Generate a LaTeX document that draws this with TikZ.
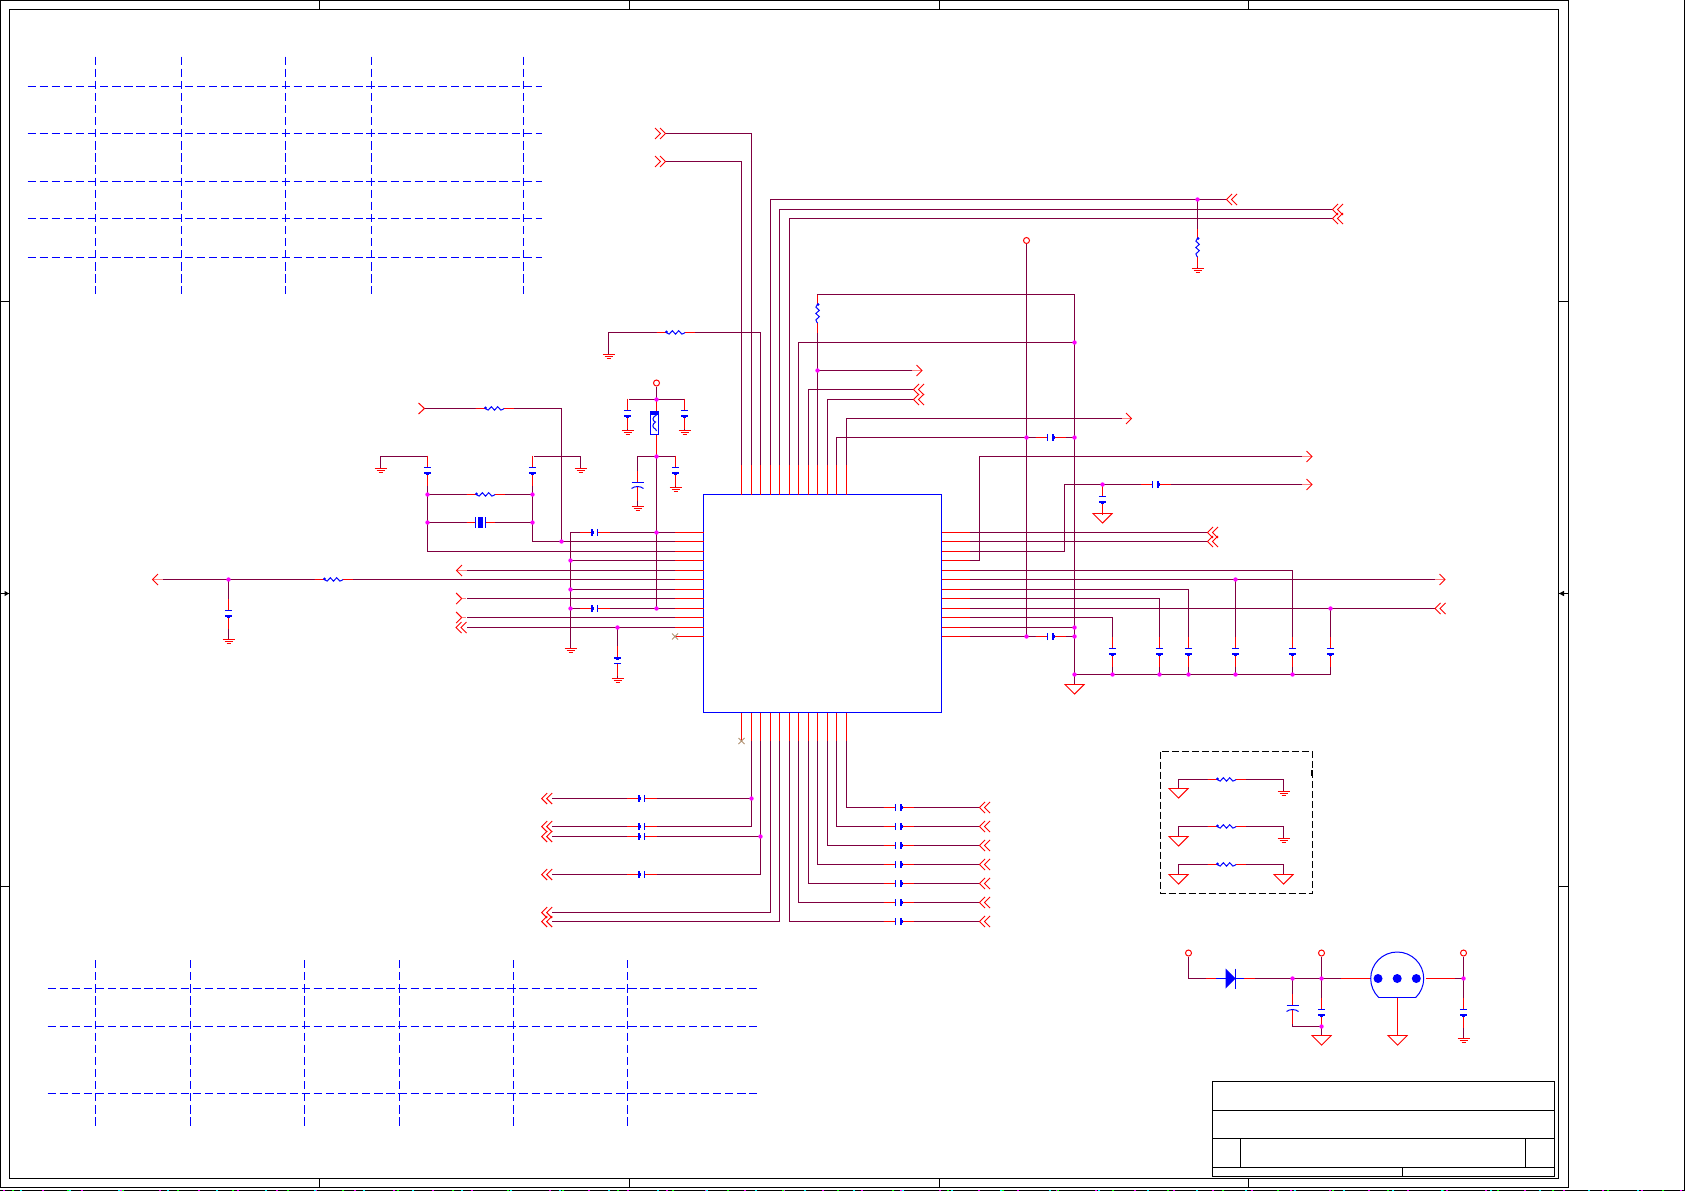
\documentclass[tikz,border=0pt]{standalone}
\definecolor{wirec}{RGB}{128,0,64}
\definecolor{palec}{RGB}{255,128,128}
\definecolor{markc}{RGB}{176,144,112}
\definecolor{magc}{RGB}{255,0,255}
\definecolor{grnc}{RGB}{0,255,0}
\definecolor{cync}{RGB}{0,255,255}
\definecolor{redc}{RGB}{255,0,0}
\definecolor{bluc}{RGB}{0,0,255}
\tikzset{
  wirest/.style={draw=wirec,line width=1pt,line join=miter},
  leadst/.style={draw=redc,line width=1pt},
  compst/.style={draw=bluc,line width=1pt},
  gridst/.style={draw=bluc,line width=1pt,dash pattern=on 8.3pt off 3.8pt},
  framest/.style={draw=black,line width=1pt},
  junct/.style={fill=magc},
  capv/.pic={
    \draw[white,line width=2pt] (0,-15)--(0,15);
    \draw[leadst] (0,-15)--(0,-3) (0,1.5)--(0,15);
    \draw[compst] (-3.6,-3)--(3.6,-3);
    \fill[bluc] (-3.6,1.5) rectangle (3.6,3.5);
    \fill[bluc] (-1.6,1) rectangle (1.6,4);
  },
  pcap/.pic={
    \draw[white,line width=2pt] (0,-15)--(0,15);
    \draw[leadst] (0,-15)--(0,-3) (0,1)--(0,15);
    \draw[compst] (-6,-3)--(6,-3);
    \draw[compst] (-6,3) .. controls (-3,0.4) and (3,0.4) .. (6,3);
  },
  res/.pic={
    \draw[white,line width=2pt] (-19,0)--(19,0);
    \draw[leadst] (-19,0)--(-9.5,0) (9.5,0)--(19,0);
    \draw[compst] plot[smooth] coordinates {(-9.5,-0.6)(-6.3,1.6)(-3.2,-1.8)(0,1.6)(3.2,-1.8)(6.3,1.6)(9.5,0)};
    \fill[bluc] (-9,-0.6) circle (1.5);
  },
  xtal/.pic={
    \draw[white,line width=2pt] (-14,0)--(14,0);
    \draw[leadst] (-14,0)--(-5,0) (5,0)--(14,0);
    \draw[compst] (-5,-5.5)--(-5,5.5) (5,-5.5)--(5,5.5);
    \fill[bluc] (-2.5,-5.5) rectangle (2.5,5.5);
  },
  gndb/.pic={
    \draw[leadst] (-6,0)--(6,0) (-4,2)--(4,2) (-2,4)--(2,4);
  },
  gtri/.pic={\draw[draw=redc,line width=0.9pt,line join=miter] (-9.6,0)--(9.6,0)--(0,9.6)--cycle;},
  arrs/.pic={
    \draw[palec,line width=1pt] (0,0)--(-10,0);
    \draw[draw=redc,line width=1pt] (-5.5,-5.5)--(0,0)--(-5.5,5.5);
  },
  arrd/.pic={
    \draw[draw=redc,line width=1pt] (5.5,-5.5)--(0,0)--(5.5,5.5) (10.5,-5.5)--(5,0)--(10.5,5.5);
  },
  vcc/.pic={\draw[draw=redc,line width=1pt] (0,0) circle (3);},
  nomark/.pic={\draw[draw=markc,line width=0.8pt] (-3,-3)--(3,3) (-3,3)--(3,-3);},
}
\begin{document}
\begin{tikzpicture}[x=1pt,y=-1pt]
\useasboundingbox (0,0) rectangle (1685,1191);
% sheet frame
\draw[framest] (0.5,0.5) rectangle (1568.5,1187.5);
\draw[framest] (9.5,9.5) rectangle (1558.5,1178.5);
\foreach \x in {319.5,629.5,939.5,1248.5} {
  \draw[framest] (\x,0.5)--(\x,9.5);
  \draw[framest] (\x,1178.5)--(\x,1187.5);
}
\foreach \y in {301.5,886.5} {
  \draw[framest] (0.5,\y)--(9.5,\y);
  \draw[framest] (1558.5,\y)--(1568.5,\y);
}
\draw[framest] (0.5,593.5)--(9.5,593.5);
\fill[black] (9,593.5)--(4.5,590.8)--(4.5,596.2)--cycle;
\draw[framest] (1558.5,593.5)--(1568.5,593.5);
\fill[black] (1559,593.5)--(1564,590.8)--(1564,596.2)--cycle;
\draw[black,line width=1pt] (0,1190.5)--(1685,1190.5);
\draw[magc,line width=1pt,dash pattern=on 2pt off 37pt] (3,1190.5)--(1685,1190.5);
\draw[grnc,line width=1pt,dash pattern=on 2pt off 53pt] (12,1190.5)--(1685,1190.5);
\draw[cync,line width=1pt,dash pattern=on 2pt off 47pt] (20,1190.5)--(1685,1190.5);
\draw[black,line width=1pt] (1684.5,0)--(1684.5,1191);
% title block
\draw[framest] (1212.5,1081.5) rectangle (1554.5,1176.5);
\draw[framest] (1212.5,1110.5)--(1554.5,1110.5);
\draw[framest] (1212.5,1138.5)--(1554.5,1138.5);
\draw[framest] (1212.5,1167.5)--(1554.5,1167.5);
\draw[framest] (1240.5,1138.5)--(1240.5,1167.5);
\draw[framest] (1525.5,1138.5)--(1525.5,1167.5);
\draw[framest] (1402.5,1167.5)--(1402.5,1176.5);
% dashed tables
\foreach \x in {95.5,181.5,285.5,371.5,523.5} \draw[gridst] (\x,56.5)--(\x,293.7);
\foreach \y in {86.5,133.5,181.5,218.5,257.5} \draw[gridst] (27.5,\y)--(542,\y);
\foreach \x in {95.5,190.5,304.5,399.5,513.5,627.5} \draw[gridst] (\x,960)--(\x,1127);
\foreach \y in {988.5,1026.5,1093.5} \draw[gridst] (47.5,\y)--(757,\y);
% main chip
\node (U) [draw=bluc,line width=1pt,inner sep=0pt,outer sep=0pt,minimum width=238pt,minimum height=218pt,anchor=north west] at (703.5,494.5) {};
% pins
\foreach \i/\y in {1/532.5,2/541.5,3/551.5,4/560.5,5/570.5,6/579.5,7/589.5,8/598.5,9/608.5,10/617.5,11/627.5,12/636.5} {
  \coordinate (LP\i) at (703.5,\y); \coordinate (LE\i) at (675,\y);
  \coordinate (RP\i) at (941.5,\y); \coordinate (RE\i) at (969.5,\y);
}
\foreach \i/\x in {1/741.5,2/751.5,3/760.5,4/770.5,5/779.5,6/789.5,7/798.5,8/808.5,9/817.5,10/827.5,11/836.5,12/846.5} {
  \coordinate (TP\i) at (\x,494.5); \coordinate (TE\i) at (\x,465);
  \coordinate (BP\i) at (\x,712.5); \coordinate (BE\i) at (\x,741);
}
% named points (all on pixel centres)
\foreach \n/\x/\y in {
 ra/570.3/532.3,rb/570.3/560.3,rc/570.3/589.3,rd/570.3/608.3,re/570.3/648.3,
 pa/656.3/386,pb/656.3/399.3,pc/656.3/456,pd/656.3/532.3,pe/656.3/608.3,
 pl/627.3/399.3,pr/684.3/399.3,plg/627.3/430,prg/684.3/430,
 ql/637.3/456,qr/675/456,qlg/637.3/506.7,qrg/675/487,
 xa/532.3/541.3,xb/532.3/456.7,xc/580/456.7,xd/580/468,
 xe/561/541.3,xf/561/408.3,xg/424/408.3,
 ya/427.7/551.3,yb/427.7/456.7,yc/380.3/456.7,yd/380.3/468,
 xm/532.3/494,xn/532.3/522.7,ym/427.7/494,yn/427.7/522.7,
 ea/466/570.3,eb/161.7/579.3,ec/228.3/579.3,ed/228.3/639.3,
 ef/466/598.3,eg/466/617.3,eh/466/627.3,ei/617.7/627.3,ej/617.7/678,
 ta/665.5/161.3,tb/665.5/133.3,tc/608.6/332.3,td/608.6/354,
 te/1226.8/199.3,tf/1197.6/199.3,tg/1197.6/268,
 th/1332/209.3,ti/1332/218.3,tj/1074/342.3,tk/913.4/389.3,
 tl/817.7/294.3,tm/1074/294.3,tn/1074/684,
 to/817.7/370.3,tp/913.4/370.3,tq/913.4/399.3,
 tr/1026.4/437.3,ts/1074/437.3,tt/1121/418.3,
 tu/1026.4/243.3,tv/1026.4/636.3,
 oa/1207.3/532.3,ob/1207.3/541.3,
 oc/1064.3/551.3,od/1064.3/484.3,oe/1302/484.3,of/1102.3/484.3,og/1102.3/513.3,
 oh/979.3/560.3,oi/979.3/456.3,oj/1302/456.3,
 ok/1292.3/674.3,ol/1235.7/579.3,om/1235.7/674.3,on/1435/579.3,
 oo/1188.3/674.3,op/1159.3/674.3,oq/1330.3/608.3,or/1435/608.3,
 os/1112.3/674.3,ot/1074/627.3,ou/1074/636.3,ov/1330.3/674.3,ow/1074/674.3,
 ba/751.3/798.3,bb/551.7/798.3,bc/551.7/826.3,bd/760.3/836.3,be/551.7/836.3,
 bf/551.7/874.3,bg/551.7/912.3,bh/551.7/921.3,bi/751.3/826.3,bj/760.3/874.3,
 ca/979.3/921.3,cb/979.3/902.3,cc/979.3/883.3,cd/979.3/864.3,ce/979.3/845.3,cf/979.3/826.3,cg/979.3/807.3,
 aa1/1178.2/788.3,aa2/1178.2/779.3,aa3/1283.2/779.3,aa4/1283.2/791,
 ab1/1178.2/836,ab2/1178.2/826.3,ab3/1283.2/826.3,ab4/1283.2/838,
 ac1/1178.2/874,ac2/1178.2/864.3,ac3/1283.2/864.3,ac4/1283.2/874,
 da/1188/956,db/1188/978.3,dc/1369.4/978.3,dd/1292.2/978.3,de/1321/978.3,df/1321/956,dg/1321/1035.7,
 dh/1292.2/1026.3,di/1321/1026.3,dj/1397.2/997.7,dk/1397.2/1035.7,
 dl/1425/978.3,dm/1463.6/978.3,dn/1463.6/956,dp/1463.6/1038,
 fa/656.5/411,fb/656.5/434.5,sa/1340/978.3,sb/1454.6/978.3} {
  \pgfmathsetmacro\sx{floor(\x)+0.5}
  \pgfmathsetmacro\sy{floor(\y)+0.5}
  \coordinate (\n) at (\sx,\sy);
}
% ---- pin stubs
\foreach \i in {1,...,12} {
  \draw[leadst] (LP\i)--(LE\i);
  \draw[leadst] (RP\i)--(RE\i);
  \draw[leadst] (TP\i)--(TE\i);
  \draw[leadst] (BP\i)--(BE\i);
}
% ---- left wires
\draw[wirest] (LE1)--(pd)--(ra)--(re);
\draw[wirest] (LE2)--(xa)--(xb)--(xc)--(xd);
\draw[wirest] (xe)--(xf)--(xg);
\draw[wirest] (LE3)--(ya)--(yb)--(yc)--(yd);
\draw[wirest] (ym)--(xm) (yn)--(xn);
\draw[wirest] (LE4)--(rb);
\draw[wirest] (LE5)--(ea);
\draw[wirest] (LE6)--(eb);
\draw[wirest] (ec)--(ed);
\draw[wirest] (LE7)--(rc);
\draw[wirest] (LE8)--(ef);
\draw[wirest] (LE9)--(rd);
\draw[wirest] (LE10)--(eg);
\draw[wirest] (LE11)--(eh);
\draw[wirest] (ei)--(ej);
\draw[wirest] (pa)--(pb);
\draw[wirest] (pc)--(pe);
\draw[leadst] (pb)--(fa) (fb)--(pc);
\draw[wirest] (plg)--(pl)--(pr)--(prg);
\draw[wirest] (qlg)--(ql)--(qr)--(qrg);
% ---- top wires
\draw[wirest] (TE1)|-(ta);
\draw[wirest] (TE2)|-(tb);
\draw[wirest] (TE3)|-(tc)--(td);
\draw[wirest] (TE4)|-(te);
\draw[wirest] (tf)--(tg);
\draw[wirest] (TE5)|-(th);
\draw[wirest] (TE6)|-(ti);
\draw[wirest] (TE7)|-(tj);
\draw[wirest] (TE8)|-(tk);
\draw[wirest] (TE9)--(tl)--(tm)--(tn);
\draw[wirest] (to)--(tp);
\draw[wirest] (TE10)|-(tq);
\draw[wirest] (TE11)|-(tr);
\draw[wirest] (tr)--(ts);
\draw[wirest] (TE12)|-(tt);
\draw[wirest] (tu)--(tv);
% ---- right wires
\draw[wirest] (RE1)--(oa);
\draw[wirest] (RE2)--(ob);
\draw[wirest] (RE3)--(oc)--(od)--(oe);
\draw[wirest] (of)--(og);
\draw[wirest] (RE4)--(oh)--(oi)--(oj);
\draw[wirest] (RE5)-|(ok);
\draw[wirest] (RE6)--(on);
\draw[wirest] (ol)--(om);
\draw[wirest] (RE7)-|(oo);
\draw[wirest] (RE8)-|(op);
\draw[wirest] (RE9)--(or);
\draw[wirest] (oq)--(ov)--(ow);
\draw[wirest] (RE10)-|(os);
\draw[wirest] (RE11)--(ot);
\draw[wirest] (RE12)--(ou);
% ---- bottom wires
\draw[wirest] (BE2)--(bi)--(bc);
\draw[wirest] (ba)--(bb);
\draw[wirest] (BE3)--(bj)--(bf);
\draw[wirest] (bd)--(be);
\draw[wirest] (BE4)|-(bg);
\draw[wirest] (BE5)|-(bh);
\draw[wirest] (BE6)|-(ca);
\draw[wirest] (BE7)|-(cb);
\draw[wirest] (BE8)|-(cc);
\draw[wirest] (BE9)|-(cd);
\draw[wirest] (BE10)|-(ce);
\draw[wirest] (BE11)|-(cf);
\draw[wirest] (BE12)|-(cg);
% ---- option box
\draw[black,line width=1pt,dash pattern=on 7pt off 3pt] (1160.5,751.5) rectangle (1312.5,893.5);
\draw[black,line width=1.4pt] (1312,770)--(1312,776);
\draw[wirest] (aa1)--(aa2)--(aa3)--(aa4);
\draw[wirest] (ab1)--(ab2)--(ab3)--(ab4);
\draw[wirest] (ac1)--(ac2)--(ac3)--(ac4);
% ---- power section
\draw[wirest] (da)--(db)--(de);
\draw[leadst] (sa)--(dc);
\draw[wirest] (de)--(sa);
\draw[wirest] (df)--(dg);
\draw[wirest] (dd)--(dh)--(di);
\draw[leadst] (dj)--(dk);
\draw[leadst] (dl)--(sb);
\draw[wirest] (sb)--(dm);
\draw[wirest] (dn)--(dp);
% ---- horizontal caps
\pic[rotate=-90] at (594.5,532.5) {capv};
\pic[rotate=-90] at (594.5,608.5) {capv};
\foreach \y in {798.5,826.5,836.5,874.5} \pic[rotate=-90] at (641.5,\y) {capv};
\foreach \y in {807.5,826.5,845.5,864.5,883.5,902.5,921.5} \pic[rotate=90] at (898.5,\y) {capv};
\pic[rotate=90] at (1050.5,437.5) {capv};
\pic[rotate=90] at (1050.5,636.5) {capv};
\pic[rotate=90] at (1155.5,484.5) {capv};
% ---- vertical caps
\foreach \x in {1112.5,1159.5,1188.5,1235.5,1292.5,1330.5} \pic at (\x,651.5) {capv};
\pic at (1102.5,499.5) {capv};
\pic at (427.5,470.5) {capv};
\pic at (532.5,470.5) {capv};
\pic at (627.5,413.5) {capv};
\pic at (684.5,413.5) {capv};
\pic at (675.5,470.5) {capv};
\pic at (228.5,613.5) {capv};
\pic[rotate=180] at (617.5,660.5) {capv};
\pic at (1321.5,1012.5) {capv};
\pic at (1463.5,1012.5) {capv};
\pic at (637.5,485.5) {pcap};
\pic at (1292.5,1008.5) {pcap};
% ---- resistors and crystal
\pic at (494.5,408.5) {res};
\pic at (485.5,494.5) {res};
\pic at (333.5,579.5) {res};
\pic at (675.5,332.5) {res};
\pic[rotate=-90] at (1197.5,247.5) {res};
\pic[rotate=-90] at (817.5,313.5) {res};
\pic at (1226.5,779.5) {res};
\pic at (1226.5,826.5) {res};
\pic at (1226.5,864.5) {res};
\pic at (480.5,522.5) {xtal};
% ---- ferrite
\fill[white] (650.5,411) rectangle (658.5,434.5);
\draw[compst] (650.5,411) rectangle (658.5,434.5);
\fill[bluc] (650.5,411) rectangle (658.5,415);
\draw[compst] (656.5,415) .. controls (652,417) and (652,421) .. (655.5,422) .. controls (652,424) and (652,428) .. (655.5,429) -- (656.5,431);
% ---- diode
\draw[white,line width=2pt] (1206,978.5)--(1254.7,978.5);
\draw[leadst] (1206,978.5)--(1254.7,978.5);
\draw[compst] (1216,978.5)--(1244,978.5);
\fill[bluc] (1225.5,968.5)--(1235.5,978.5)--(1225.5,988.5)--cycle;
\draw[compst] (1235.5,968.5)--(1235.5,988.5);
% ---- regulator
\begin{scope}
  \clip (1360,940) rectangle (1440,997.7);
  \draw[compst] (1397.2,978.5) circle (26.5);
\end{scope}
\draw[bluc,line width=1.4pt] (1379,997.7)--(1415.6,997.7);
\foreach \x in {1378,1397.2,1416.3} \fill[bluc] (\x,978.5) circle (4.5);
% ---- grounds
\foreach \c in {xd,yd,plg,prg,qlg,qrg,ed,ej,td,tg,aa4,ab4,dp,re} \pic at (\c) {gndb};
\foreach \c in {og,tn,aa1,ab1,ac1,ac4,dg,dk} \pic at (\c) {gtri};
% ---- off-sheet arrows
\pic[rotate=180] at (456.5,570.5) {arrs};
\pic[rotate=180] at (152.5,579.5) {arrs};
\pic at (922,370.5) {arrs};
\pic at (1131.5,418.5) {arrs};
\pic at (1312,456.5) {arrs};
\pic at (1312,484.5) {arrs};
\pic at (1445,579.5) {arrs};
\foreach \y in {408.5} \draw[draw=redc,line width=1pt] (418.5,\y-5.5)--(xg)--(418.5,\y+5.5);
\foreach \y in {598.5,617.5} {
  \draw[draw=redc,line width=1pt] (456.2,\y-5.5)--(461.7,\y)--(456.2,\y+5.5);
  \draw[palec,line width=1pt] (461.7,\y)--(466,\y);
}
\pic at (456,627.5) {arrd};
\pic at (te) {arrd};
\pic at (th) {arrd};
\pic at (ti) {arrd};
\pic at (tk) {arrd};
\pic at (tq) {arrd};
\pic at (oa) {arrd};
\pic at (ob) {arrd};
\pic at (1435,608.5) {arrd};
\pic[rotate=180] at (ta) {arrd};
\pic[rotate=180] at (tb) {arrd};
\foreach \y in {798.5,826.5,836.5,874.5,912.5,921.5} \pic at (541.7,\y) {arrd};
\foreach \c in {ca,cb,cc,cd,ce,cf,cg} \pic at (\c) {arrd};
\pic at (675,636.5) {nomark};
\pic at (741.5,741) {nomark};
% ---- supply rings
\foreach \x/\y in {656.5/383,1026.5/240.5,1188.5/953,1321.5/953,1463.5/953} \pic at (\x,\y) {vcc};
% ---- junctions
\foreach \c in {rb,rc,rd,pb,pc,pd,pe,xe,xm,xn,ym,yn,ec,ei,
  tf,tj,to,tr,ts,of,ol,oq,ot,ou,tv,ow,ok,om,oo,op,os,ba,bd,
  dd,de,di,dm} \fill[junct] (\c) circle (2.2);
\end{tikzpicture}
\end{document}
